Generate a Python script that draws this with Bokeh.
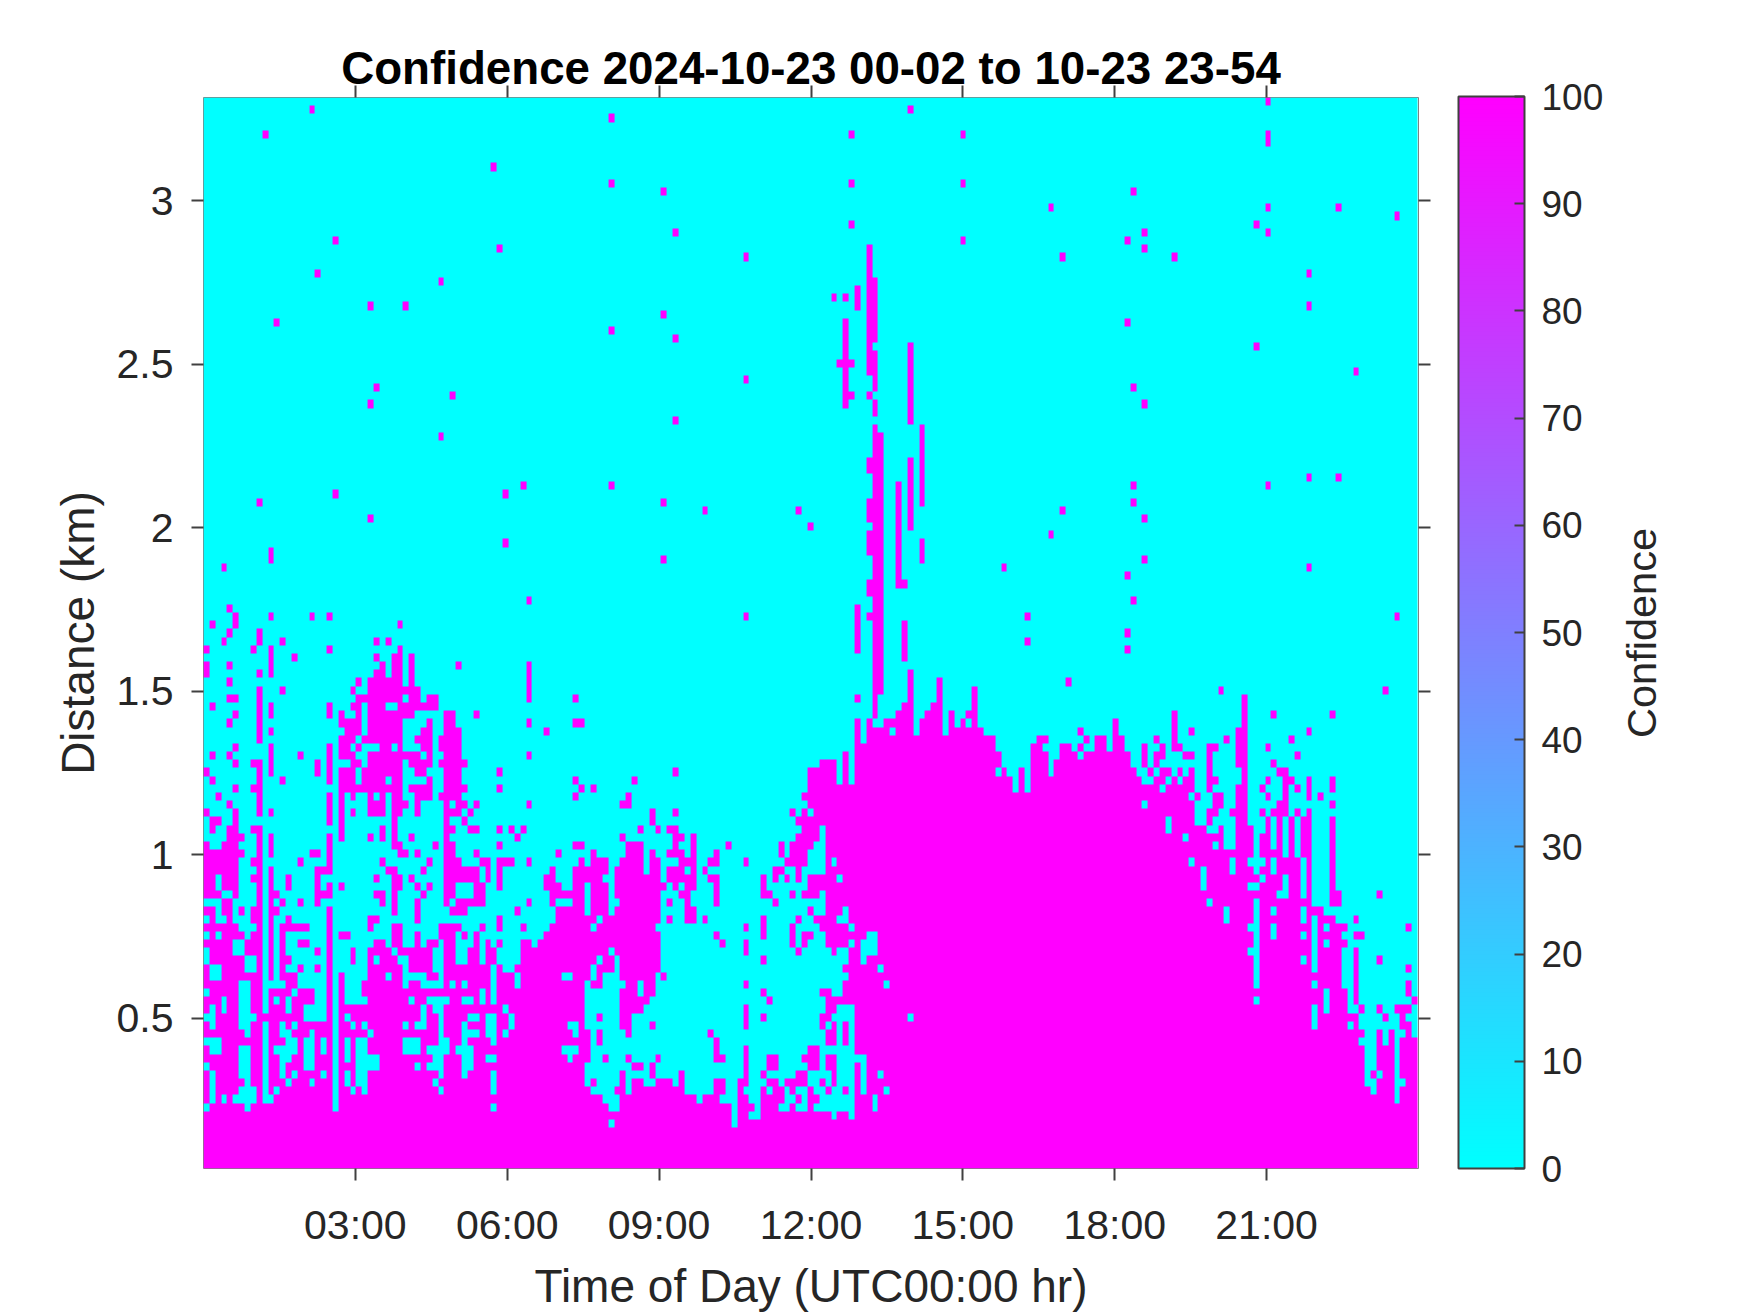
import numpy as np
from bokeh.embed import file_html
from bokeh.layouts import row
from bokeh.resources import INLINE
from bokeh.plotting import figure
from bokeh.models import (LinearColorMapper, ColorBar, FixedTicker, LinearAxis, Range1d)

TITLE = "Confidence 2024-10-23 00-02 to 10-23 23-54"
X_LABEL = "Time of Day (UTC00:00 hr)"
Y_LABEL = "Distance (km)"
BAR_LABEL = "Confidence"
X_TICKS = [3, 6, 9, 12, 15, 18, 21]
X_TICK_LABELS = ["03:00", "06:00", "09:00", "12:00", "15:00", "18:00", "21:00"]
Y_TICKS = [0.5, 1, 1.5, 2, 2.5, 3]
Y_TICK_LABELS = ["0.5", "1", "1.5", "2", "2.5", "3"]
BAR_TICKS = list(range(0, 101, 10))

N_COLS = 207          # time bins, one about every 6.95 minutes
N_ROWS = 131          # range gates, 25 m each
TIME_STEP_HR = 0.11585
RANGE_START_KM = 0.04
RANGE_STEP_KM = 0.025

# High-confidence cells by range gate (key) and time bins (runs)
LEFT_RUNS = {
69:"55",68:"4",67:"5 11 18 21",66:"1 5 33",65:"4 9",64:"3 9 13 29 31",63:"0 8 11 21 33",
62:"11 15 29 32-33 35",61:"0 4 11 30 32-33 35 43 55",60:"0 9 11 29-30 32-33 35 55",
59:"4 26 28-33 35 55",58:"9 13 25 28-36 55",57:"4-5 9 26-33 35-36 38-39 55 63",
56:"1 9 11 21 25-26 28-30 33-39",55:"5 9 11 21 23 26 28-35 41-42 46",
54:"4 9 23-26 28-33 38 41-42 55 63-64",53:"9 11 24-26 28-33 37-38 41-43 58",
52:"9 23-25 27-33 36-38 40-43",51:"5 11 21 23-24 26 30-31 33 37-38 40-43",
50:"1 4 11 16 21 23-25 28-36 38 41-43 55",49:"5 8-9 11 19 21 25-26 28-33 35-38 40-44",
48:"0 9 11 19 21 23-25 27-33 36-37 41-43 50",47:"1 9 13 21 23-25 27-30 32-33 38 41-43 63",
46:"5 8-9 23-33 35-38 41-44 50 64 66",45:"2 9 21 23 25 28 30 32-33 36-38 40-43 63",
44:"4 9 21 23 28-30 32-34 36 41 43-44 46 55",43:"0 5 9 11 21 23 25 28-30 32-33 36 41-43 45",
42:"1-2 5 21 23 32 41 44",41:"1 4-5 8-9 23 30 32 41-42 45-46 50 52 54",
40:"4-6 9 11 21 23 28 30 32 35 41 53",39:"0 3-5 9 11 21 32-33 39 41-42 50 63-64",
38:"0-6 9 11 18-19 21 33-34 36 41-42 46 60 66",
37:"0-5 8-9 16 21 30 38 41-43 47-48 50-52 55 64 66-68",
36:"0-5 9 11 19-21 31-32 37 41-46 48 50 59 63-68",
35:"0-1 3-5 8-9 11 14 19 29 32-33 35 41-46 48 50 58-59 63-67",
34:"0-1 3-5 9 11 14 19 21 23 32-33 36 38 41-42 46-47 50 58-60 63-64 66-68",
33:"0-2 5 9 11-12 19-21 29-30 32 37 41-42 46-47 59-64 66-68",
32:"3-4 9 11 13 16 19 30 32 36 41 43-47 55 59 63-64 66-68",
31:"0-1 3-4 6 8-9 11-12 21 32 36 42-44 53 60-64 66-68",
30:"1 4 8-9 11 14 21 28-29 36 50 60-66 68-69",
29:"0-5 9 11 13-17 21 28 32-33 40-43 47 50 54 59-65 67-69",
28:"1 3-6 8-9 11 13 21 23-24 32-33 36 40-42 44 46 58-69",
27:"0-4 7-9 11 13 16-17 21 29-30 32-33 36 38-39 41-42 46 48 50 54-55 57-69",
}
LEFT_BASE_TOP = 26

# Low-confidence boxes cut out of the lower left: first bin, last bin, first gate, last gate
LEFT_GAPS = [
(0,0,25,26),(1,2,23,24),(0,0,21,21),(1,1,17,19),(0,0,18,18),(3,3,19,20),(0,2,15,15),(1,2,14,14),
(0,0,12,12),(1,1,8,11),(3,3,8,8),(5,5,8,8),(0,0,7,7),(7,8,24,25),(5,6,26,26),(6,7,17,22),(7,8,18,18),
(7,7,16,16),(6,7,11,14),(7,7,10,10),(6,8,8,9),(7,7,7,7),(10,10,8,17),(10,10,19,26),(10,13,22,22),
(10,11,8,8),(12,12,9,9),(13,14,16,16),(14,15,14,15),(12,15,14,14),(13,14,13,13),(13,13,11,12),
(15,15,11,11),(14,14,10,10),(18,18,10,10),(20,20,11,11),(17,18,12,15),(20,20,14,15),(18,18,16,16),
(17,20,18,19),(19,20,19,22),(16,20,22,23),(12,12,20,20),(14,14,19,20),(15,15,21,21),(13,13,17,17),
(15,15,17,17),(14,20,24,26),(12,12,23,26),(22,22,7,26),(23,24,24,26),(26,27,24,26),(24,27,23,24),
(24,26,21,22),(24,27,20,20),(24,24,18,18),(25,25,17,17),(27,27,17,17),(28,28,16,16),(24,24,13,15),
(26,27,14,15),(26,29,12,13),(24,24,10,11),(25,25,9,9),(26,27,10,11),(27,27,9,9),(29,29,25,25),
(31,31,23,23),(32,32,26,26),(33,34,25,25),(34,34,22,24),(35,37,23,23),(35,35,20,20),(34,34,17,17),
(36,37,17,17),(37,37,18,19),(34,36,14,15),(38,41,14,14),(39,40,12,13),(38,39,12,12),(40,40,11,11),
(39,39,10,10),(40,40,9,9),(36,36,12,12),(39,40,24,26),(37,40,22,22),(38,41,20,20),(39,40,19,19),
(40,40,16,18),(40,41,15,15),(40,40,23,23),(42,42,22,22),(44,44,22,22),(44,45,20,20),(47,47,20,21),
(49,49,20,24),(45,46,18,18),(44,44,15,17),(44,46,16,16),(43,45,14,14),(44,45,12,13),(44,44,11,11),
(48,49,16,18),(49,49,15,15),(48,49,13,13),(49,49,9,11),(49,49,7,7),(43,44,25,26),(47,47,25,26),
(51,51,19,19),(52,52,17,18),(51,51,16,16),(50,53,25,26),(51,52,24,25),(53,53,22,23),(61,62,23,23),
(62,63,17,17),(63,63,16,16),(61,63,14,14),(62,62,13,13),(65,65,22,22),(68,69,22,23),(65,69,19,21),
(65,66,18,18),(68,69,18,18),(65,69,17,17),(66,66,15,16),(68,69,15,16),(66,69,14,14),(66,67,13,13),
(69,69,13,13),(65,69,11,12),(65,65,10,10),(67,69,10,10),(66,69,9,9),(68,69,8,8),(69,69,7,7),(69,69,5,5),
(66,66,23,24),(67,67,25,25),(69,69,26,26),
]

MID_RUNS = {
50:"109",49:"105-107 109",48:"80 103-107 109",47:"73 103-107 109",46:"103-110",45:"72 102-110",
44:"71-72 103-110",43:"76 80 100 102 104-110",42:"76 101-110",41:"74 77 79-80 102-104 106-110",
40:"71 80-81 83 101-104 106-110",39:"72-74 80 83 89 98 100-103 106-110",
38:"72-74 76 79-81 83 87 98 100-102 106-110",37:"71-74 76-77 81-83 86-87 92 99-102 106 108-110",
36:"70-74 76-77 79-81 83 85 97-98 101 106-110",35:"70-77 79-83 86-87 95 97 99 101 103-107 109-110",
34:"70-78 80 82-83 87 95 103-110",33:"70-77 81-82 87 95-96 100 102-104 106-110",
32:"71-77 79 82 87 97 106-110",31:"70-77 82-83 103 106-108 110",30:"70-77 79 82-83 85 95 101 104-107 110",
29:"70-76 92 95 100 105-109",28:"70-77 87 95 100 102-103 106-110",27:"70-77 88 92 100 102 106-109",
26:"70-77 92 101 107 110",25:"71-77 95 110",24:"71-77 109-110",23:"71-76 78 110",22:"72-73 75-76 92 109-110",
21:"71-73 75-76 95 105-106 109-110",20:"71-75 96 106-110",19:"71-74 92 106-107",18:"71-72 92 95 105-106",
17:"71-72 76 92 105 107 109",16:"72 86 106-107 109",15:"87 106-107 109",14:"87 92 103-104",
13:"72 77 87-88 92 96-97 102-104 106-107",12:"73-74 76 92 96-97 103-104 106-107",
11:"71 76 81 92 95 101-102 107",10:"71 73-74 77-79 81 87-88 91-92 96-97 99-102 105 107",
9:"70-71 73-81 87-88 91 95 97-98 100 103 106 109",8:"71-83 85-87 91-92 95-98 101 103-104",
7:"71-89 91-93 95-97 100 103",6:"70-89 91-92 95-106 108-109",5:"70-89 91-110",
}

# Top of the solid layer in the 12:50 to 15:40 block, bin 111 upward
BODY_TOPS = [54,51,54,53,53,54,54,55,56,60,52,54,55,56,59,52,55,53,54,55,58,53,52,52]
BODY_FIRST_BIN = 111
BODY_GAPS = [(113,114,26,28),(112,112,25,27),(115,115,24,24),(116,116,22,22),(120,120,18,18),(115,115,11,11),
(116,116,9,9),(114,114,7,8),(112,112,9,13),(111,111,13,13),(114,114,54,54),(117,117,53,53),(130,130,54,54)]

# Columns of echoes rising above the block: bin, first gate, last gate
TOWERS = [
(113,97,112),(113,94,94),(113,85,86),(113,79,81),(113,75,77),(113,70,71),(113,67,67),
(114,101,108),(114,95,99),(114,92,93),(114,55,90),(115,58,89),
(111,105,107),(111,63,68),(111,57,57),(109,93,103),(108,98,98),(110,98,98),(110,94,94),
(107,106,106),(109,106,106),(120,91,100),(120,78,86),(122,81,90),(122,74,76),
(118,71,83),(119,71,71),(119,62,66),
]

RIGHT_RUNS = {
59:"147",58:"173 201",57:"177",56:"177",55:"165 177 182 192",54:"155 165 177",53:"149 155 165 168 176-177 188",
52:"142-143 150 152-153 155-156 162 165 174 176-177 185",
51:"141-142 146-147 149 152-153 155-156 160 163 165-166 171-172 176-177 181",
50:"135 141-143 146-148 150-157 160 162-163 167-168 171 176-177 186",
49:"135 141-143 145-157 160 162 171 176-177 182",
48:"136 139 141-143 145-157 158 161 163-164 166 168 171 177 183-184",
47:"135-137 139 141-159 162-163 165 167-168 171-172 177 181 184-185 188 192",
46:"135-137 139 141-162 164-168 171 176-177 180 184 186 188 192",
45:"135-167 169 172-173 176-177 181 184 188 190",
44:"135-159 161-168 172-173 176-177 183-184 192",
43:"135-168 171-172 175-177 180 182-184 186 188",
42:"135-163 165-168 171 176-177 181 183 185 187-188 192",
41:"135-163 165-170 173 176-178 181 183 185 187-188 192",
40:"135-166 168-173 176-178 180-181 183 185 187-188 192",
39:"135-171 173 176-178 180-181 183 185 187-188 192",
38:"135-178 180-183 185 187-188 192",
37:"135-167 169-174 176-177 181 183-186 188 192",
36:"135-169 171-174 176-178 180-181 183-186 188 192",
35:"135-169 171-179 181-183 185-186 188 192",
34:"135-169 171-177 180-183 185-186 188 192",
33:"135-182 185-186 188 192-193 200",
32:"135-170 172-178 180-188 192-193",
31:"135-173 175-178 180-181 183-186 188-190",
30:"135-173 175-178 180-186 188 190-192 196",
29:"135-177 180-181 183-188 190 192-194 205",
28:"135-178 180-181 183-186 188 190-193 196-197",
27:"135-178 180-188 190 192-194",
26:"135-177 180-188 190-193 196",
25:"135-178 180-186 188 190-193 196 200",
24:"135-178 180-188 190-193 196 205",
23:"135-178 180-193 196",
22:"135-178 180-188 190-193 196 205",
21:"135-190 192-194 196 205",
20:"135-178 180-190 192-194 196 206",
19:"135-188 190 192-194 197 200 203-205",
18:"135-188 190-196 201 204",
17:"135-188 190-194 196 204-205",
16:"135-197 200 202 205",
15:"135-196 200 202 204-206",
14:"135-197 200-202 204-206",
13:"135-197 200-202 204-206",
12:"135-197 200-202 204-206",
11:"135-197 199 201-202 204-206",
10:"135-197 200-202 205-206",
9:"135-198 200-202 204-206",
8:"135-202 204-206",
7:"135-206",6:"135-206",5:"135-206",
}

# Isolated high-confidence cells
SPECK_BINS = [18,69,10,49,69,78,80,22,50,92,19,40,28,34,12,78,69,80,92,29,42,28,80,40,54,69,22,51,9,78,85,28,51,
 11,11,78,3,181,181,181,158,144,181,193,203,179,160,181,157,160,146,165,188,188,157,179,196,158,160,158,181,188,193,
 158,146,160,144,160,136,188,157,158,140,203,157,140,157,120,110,129,110,129,110,129,101,103,92]
SPECK_GATES = [129,128,126,122,120,119,114,113,112,111,109,108,105,105,103,104,102,101,96,95,94,93,91,89,83,83,82,82,
 81,81,80,79,76,75,74,74,73,130,126,125,119,117,117,117,116,115,114,114,113,112,111,111,109,105,103,100,97,95,93,83,
 83,84,84,81,80,79,77,74,73,73,72,69,67,67,65,64,63,129,126,126,120,120,115,113,80,78,67]
EXTRA_LEFT = [(16,24),(19,24),(19,26),(13,25),(14,25),(25,25),(25,26),(50,30),(54,29),(53,31),(55,32)]


def runs(text):
    for part in text.split():
        a, _, b = part.partition("-")
        yield int(a), int(b or a)


conf = np.zeros((N_ROWS, N_COLS))
conf[:5, :] = 100
conf[5:7, :70] = 100
conf[:LEFT_BASE_TOP + 1, :70] = 100
for n0, n1, r0, r1 in LEFT_GAPS:
    conf[r0:r1 + 1, n0:n1 + 1] = 0
for r, txt in LEFT_RUNS.items():
    for a, b in runs(txt):
        conf[r, a:b + 1] = 100
for n, r in EXTRA_LEFT:
    conf[r, n] = 100
for r, txt in MID_RUNS.items():
    for a, b in runs(txt):
        conf[r, a:b + 1] = 100
for i, top in enumerate(BODY_TOPS):
    conf[:top + 1, BODY_FIRST_BIN + i] = 100
for n0, n1, r0, r1 in BODY_GAPS:
    conf[r0:r1 + 1, n0:n1 + 1] = 0
for n, r0, r1 in TOWERS:
    conf[r0:r1 + 1, n] = 100
conf[5:51, 135:] = 0
for r, txt in RIGHT_RUNS.items():
    for a, b in runs(txt):
        conf[r, a:b + 1] = 100
for n, r in zip(SPECK_BINS, SPECK_GATES):
    conf[r, n] = 100

palette = ["#%02x%02x%02x" % (i, 255 - i, 255) for i in range(256)]
mapper = LinearColorMapper(palette=palette, low=0, high=100)

TEXT = "#262626"
TICK = "#404040"
p = figure(frame_width=1215, frame_height=1071, toolbar_location=None, output_backend="svg",
           x_range=Range1d(0, 24), y_range=Range1d(RANGE_START_KM, RANGE_START_KM + N_ROWS * RANGE_STEP_KM),
           min_border_left=203, min_border_top=97, min_border_bottom=145, min_border_right=192,
           background_fill_color="white", border_fill_color="white", title=TITLE)
p.image(image=[conf], x=0, y=RANGE_START_KM, dw=N_COLS * TIME_STEP_HR, dh=N_ROWS * RANGE_STEP_KM, color_mapper=mapper)
p.grid.visible = False
p.outline_line_color = "#808080"
p.outline_line_width = 1

p.title.align = "center"
p.title.text_font = "Liberation Sans"
p.title.text_font_size = "45.7px"
p.title.text_font_style = "bold"
p.title.text_color = "black"
p.title.standoff = -17


def style(ax, ticks, labels, show):
    ax.ticker = FixedTicker(ticks=ticks)
    ax.major_label_overrides = {t: l for t, l in zip(ticks, labels)}
    ax.axis_line_color = None
    ax.major_tick_in = 0
    ax.major_tick_out = 12
    ax.major_tick_line_color = TICK
    ax.major_tick_line_width = 2
    ax.minor_tick_line_color = None
    ax.major_label_text_font = "Liberation Sans"
    ax.major_label_text_color = TEXT
    ax.major_label_text_font_size = "41px" if show else "0px"
    ax.axis_label_text_font = "Liberation Sans"
    ax.axis_label_text_font_size = "46px"
    ax.axis_label_text_font_style = "normal"
    ax.axis_label_text_color = TEXT


style(p.xaxis[0], X_TICKS, X_TICK_LABELS, True)
style(p.yaxis[0], Y_TICKS, Y_TICK_LABELS, True)
p.xaxis[0].axis_label = X_LABEL
p.yaxis[0].axis_label = Y_LABEL
p.xaxis[0].major_label_standoff = 21
p.xaxis[0].axis_label_standoff = 9
p.yaxis[0].major_label_standoff = 18
p.yaxis[0].axis_label_standoff = 10

top = LinearAxis()
style(top, X_TICKS, ["" for _ in X_TICKS], False)
top.major_label_standoff = 0
p.add_layout(top, "above")
right = LinearAxis()
style(right, Y_TICKS, ["" for _ in Y_TICKS], False)
right.major_label_standoff = 0
p.add_layout(right, "right")

bar = ColorBar(color_mapper=mapper, ticker=FixedTicker(ticks=BAR_TICKS), width=66, height=1072, padding=0,
               location=(28, 0), bar_line_color=TICK, bar_line_width=2, major_tick_in=10, major_tick_out=0,
               major_tick_line_color=TICK, major_tick_line_width=2, minor_tick_line_color=None,
               major_label_text_font="Liberation Sans", major_label_text_font_size="37px",
               major_label_text_color=TEXT, label_standoff=17, background_fill_color=None,
               border_line_color=None)
p.add_layout(bar, "right")

# Narrow neighbour whose left-axis title reads upward, centred on the colour bar's height
side = figure(frame_width=10, frame_height=1071, toolbar_location=None, output_backend="svg",
              x_range=Range1d(0, 1), y_range=Range1d(0, 1),
              min_border_left=64, min_border_top=97, min_border_bottom=145, min_border_right=66,
              background_fill_color="white", border_fill_color="white", outline_line_color=None)
side.grid.visible = False
side.xaxis.visible = False
ax = side.yaxis[0]
ax.ticker = FixedTicker(ticks=[])
ax.axis_line_color = None
ax.major_tick_line_color = None
ax.minor_tick_line_color = None
ax.major_label_text_font_size = "0px"
ax.axis_label = BAR_LABEL
ax.axis_label_text_font = "Liberation Sans"
ax.axis_label_text_font_size = "41.5px"
ax.axis_label_text_font_style = "normal"
ax.axis_label_text_color = TEXT
ax.axis_label_standoff = 10

page = row(p, side, spacing=0)
open("out.html", "w").write(file_html(page, INLINE))
